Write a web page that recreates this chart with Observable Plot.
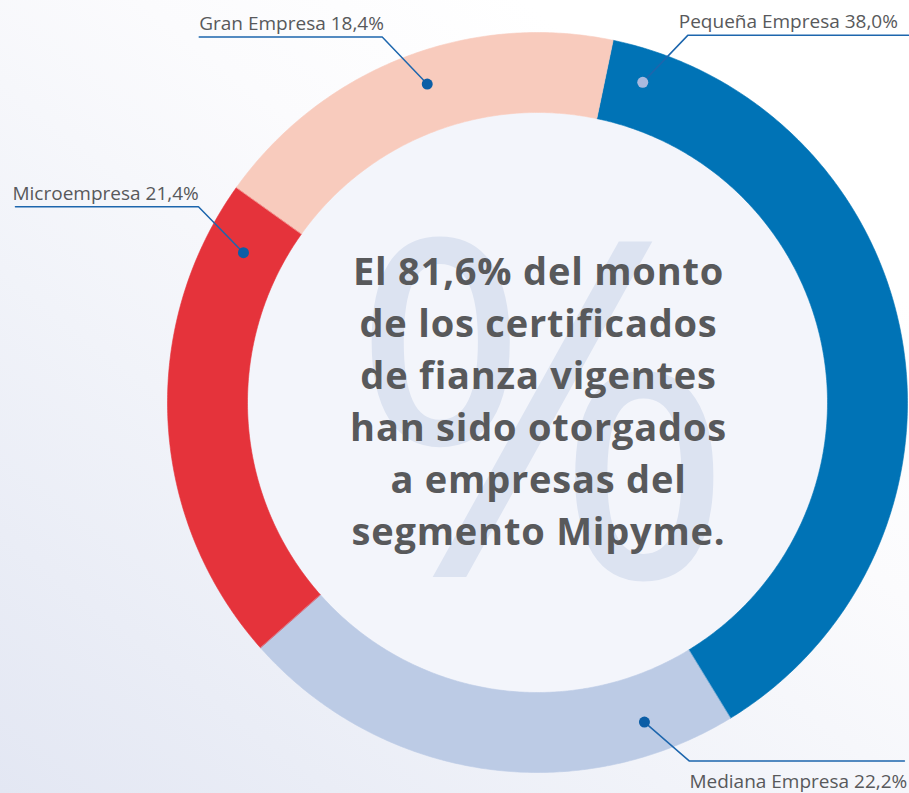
<!DOCTYPE html>
<html>
<head>
<meta charset="utf-8">
<script src="https://cdn.jsdelivr.net/npm/d3@7"></script>
<script src="https://cdn.jsdelivr.net/npm/@observablehq/plot@0.6"></script>
<style>
  html, body { margin: 0; padding: 0; width: 909px; height: 793px; overflow: hidden; }
  #chart svg { display: block; }
</style>
</head>
<body>
<div id="chart"></div>
<script>
// ---- data ----
const categories = ["Pequeña Empresa", "Mediana Empresa", "Microempresa", "Gran Empresa"];
const shares = [38.0, 22.2, 21.4, 18.4];
const labelTexts = ["Pequeña Empresa 38,0%", "Mediana Empresa 22,2%", "Microempresa 21,4%", "Gran Empresa 18,4%"];
const centerLines = ["El 81,6% del monto", "de los certificados", "de fianza vigentes", "han sido otorgados", "a empresas del", "segmento Mipyme."];

// ---- layout / style ----
const W = 909, H = 793;
const CX = 537, CY = 402;
const R_OUT = 370, R_IN = 290;
const START_DEG = 11.8;
const colors = ["#0073b6", "#bccbe5", "#e5333b", "#f8cbbd"];
const dotColors = ["#a9b9de", "#0b5ea6", "#0b5ea6", "#0b5ea6"];
// leader layout per label: dot angle (deg clockwise from top), dot radius, direction, elbow offsets
const leaders = [
  {ang: 18.2, r: 337, sx: 1, sy: -1, ex: 45, ey: 47, len: 221, textDx: -9, textDy: -7},
  {ang: 161.5, r: 337, sx: 1, sy: 1, ex: 45, ey: 39, len: 215, textDx: 0, textDy: 27},
  {ang: 297.0, r: 330, sx: -1, sy: -1, ex: 45, ey: 46, len: 183, textDx: -3, textDy: -7},
  {ang: 340.9, r: 337, sx: -1, sy: -1, ex: 45, ey: 47, len: 183, textDx: 0, textDy: -7}
];

const rad = d => d * Math.PI / 180;
const polar = (r, deg) => [r * Math.sin(rad(deg)), -r * Math.cos(rad(deg))];

// slices from shares
const total = d3.sum(shares);
let acc = START_DEG;
const slices = categories.map((c, i) => {
  const a0 = acc, a1 = acc + shares[i] / total * 360;
  acc = a1;
  return {category: c, a0, a1};
});
const slicePts = [];
for (const s of slices) {
  const n = Math.max(2, Math.ceil((s.a1 - s.a0) / 0.5));
  for (let k = 0; k <= n; k++) {
    const a = s.a0 + (s.a1 - s.a0) * k / n;
    const [x, y] = polar(R_OUT, a);
    slicePts.push({category: s.category, x, y});
  }
  for (let k = n; k >= 0; k--) {
    const a = s.a0 + (s.a1 - s.a0) * k / n;
    const [x, y] = polar(R_IN, a);
    slicePts.push({category: s.category, x, y});
  }
}

// leaders
const leaderPts = [];
const dots = [];
const labels = [];
categories.forEach((c, i) => {
  const L = leaders[i];
  const [dx, dy] = polar(L.r, L.ang);
  const ex = dx + L.sx * L.ex, ey = dy + L.sy * L.ey;
  const hx = ex + L.sx * L.len;
  leaderPts.push({k: c, x: dx, y: dy}, {k: c, x: ex, y: ey}, {k: c, x: hx, y: ey});
  dots.push({x: dx, y: dy, fill: dotColors[i]});
  const leftSide = L.sx < 0;
  labels.push({
    x: (leftSide ? hx : ex) + L.textDx,
    y: ey + L.textDy,
    text: labelTexts[i]
  });
});

const chart = Plot.plot({
  width: W,
  height: H,
  margin: 0,
  x: {type: "linear", domain: [-CX, W - CX], range: [0, W], axis: null},
  y: {type: "linear", domain: [-CY, H - CY], range: [0, H], axis: null},
  color: {domain: categories, range: colors},
  style: {
    background: "linear-gradient(38deg, #e3e7f3 0%, #f1f3f9 35%, #fbfbfd 60%, #ffffff 80%)",
    fontFamily: "'Open Sans', sans-serif",
    overflow: "visible"
  },
  marks: [
    Plot.dot([{x: 0, y: 0}], {x: "x", y: "y", r: R_IN, fill: "#f3f5fb", stroke: "none"}),
    Plot.text(["%"], {x: () => 5, y: () => 24, text: d => d, fontSize: 470, fill: "#dce3f1",
      fontFamily: "'Open Sans', sans-serif", lineAnchor: "middle", textAnchor: "middle"}),
    Plot.line(slicePts, {x: "x", y: "y", z: "category", fill: "category", stroke: "category",
      strokeWidth: 0.6, curve: "linear-closed"}),
    Plot.text([centerLines.join("\n")], {x: () => 1, y: () => -4, text: d => d, fontSize: 38,
      fontWeight: 700, fill: "#58595b", lineHeight: 1.37, lineAnchor: "middle", textAnchor: "middle",
      fontFamily: "'Open Sans', sans-serif", className: "center-text"}),
    Plot.line(leaderPts, {x: "x", y: "y", z: "k", stroke: "#1d66ad", strokeWidth: 1.5}),
    Plot.dot(dots, {x: "x", y: "y", r: 5.5, fill: "fill", stroke: "none"}),
    Plot.text(labels, {x: "x", y: "y", text: "text", fontSize: 19, fill: "#58595b",
      textAnchor: "start", lineAnchor: "bottom", fontFamily: "'Open Sans', sans-serif"})
  ]
});
chart.querySelectorAll("g.center-text text").forEach(t => t.setAttribute("letter-spacing", "0.8"));
document.getElementById("chart").appendChild(chart);
</script>
</body>
</html>
